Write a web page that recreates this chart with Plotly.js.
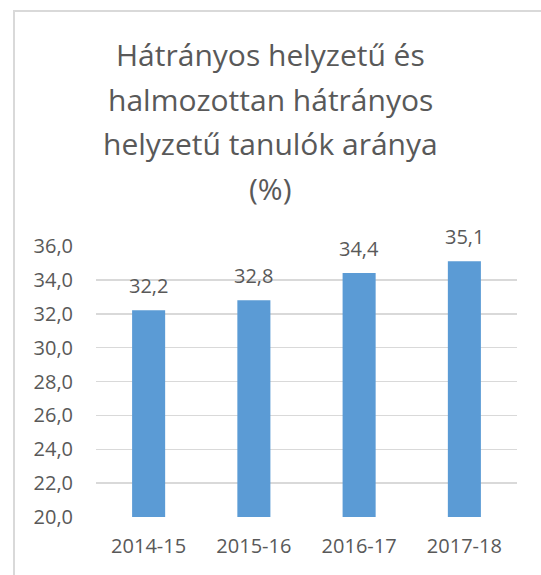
<!DOCTYPE html>
<html>
<head>
<meta charset="utf-8">
<script src="https://cdn.plot.ly/plotly-3.0.1.min.js"></script>
<style>
  html, body { margin: 0; padding: 0; background: #ffffff; }
  body { width: 541px; height: 575px; overflow: hidden; position: relative; }
  #frame { position: absolute; left: 13px; top: 10px; width: 600px; height: 620px; border: 2px solid #d9d9d9; box-sizing: border-box; }
  #chart { position: absolute; left: 0; top: 0; width: 541px; height: 575px; }
</style>
</head>
<body>
<div id="frame"></div>
<div id="chart"></div>
<script>
const categories = ["2014-15", "2015-16", "2016-17", "2017-18"];
const values = [32.2, 32.8, 34.4, 35.1];
const tickValues = [20, 22, 24, 26, 28, 30, 32, 34, 36];
const tickLabels = ["20,0", "22,0", "24,0", "26,0", "28,0", "30,0", "32,0", "34,0", "36,0"];
const titleLines = ["Hátrányos helyzetű és", "halmozottan hátrányos", "helyzetű tanulók aránya", "(%)"];
const valueLabels = values.map(v => v.toFixed(1).replace(".", ","));

const FONT = "Open Sans, sans-serif";
const GRAY = "#595959";

const W = 541, H = 575;
const M = { l: 96, r: 24, t: 246, b: 58 };
const plotH = H - M.t - M.b;
const pxToPaperY = py => (H - M.b - py) / plotH;

const trace = {
  type: "bar",
  x: categories,
  y: values,
  width: 0.314,
  marker: { color: "#5b9bd5" },
  hoverinfo: "skip"
};

const valueAnnotations = categories.map((c, i) => ({
  x: c, y: values[i], xref: "x", yref: "y",
  text: valueLabels[i], showarrow: false,
  yanchor: "bottom", yshift: 9,
  font: { family: FONT, size: 20, color: GRAY }
}));

const titleCenters = [54, 99, 143.5, 188];
const titleAnnotations = titleLines.map((t, i) => ({
  text: t, showarrow: false,
  xref: "paper", yref: "paper",
  x: (270.5 - M.l) / (W - M.l - M.r), xanchor: "center",
  y: pxToPaperY(titleCenters[i]), yanchor: "middle",
  font: { family: FONT, size: 30, color: GRAY }
}));

const layout = {
  width: W, height: H,
  margin: M,
  paper_bgcolor: "rgba(0,0,0,0)",
  plot_bgcolor: "rgba(0,0,0,0)",
  showlegend: false,
  xaxis: {
    type: "category",
    tickfont: { family: FONT, size: 20, color: GRAY },
    showgrid: false, zeroline: false, showline: false,
    ticks: "", ticklabelstandoff: 15
  },
  yaxis: {
    range: [20, 36],
    tickvals: tickValues, ticktext: tickLabels,
    tickfont: { family: FONT, size: 20, color: GRAY },
    showgrid: true, gridcolor: "#d9d9d9", gridwidth: 1.5,
    zeroline: false, showline: false,
    ticks: "", ticklabelstandoff: 22
  },
  annotations: titleAnnotations.concat(valueAnnotations)
};

Plotly.newPlot("chart", [trace], layout, { displayModeBar: false, staticPlot: true });
</script>
</body>
</html>
